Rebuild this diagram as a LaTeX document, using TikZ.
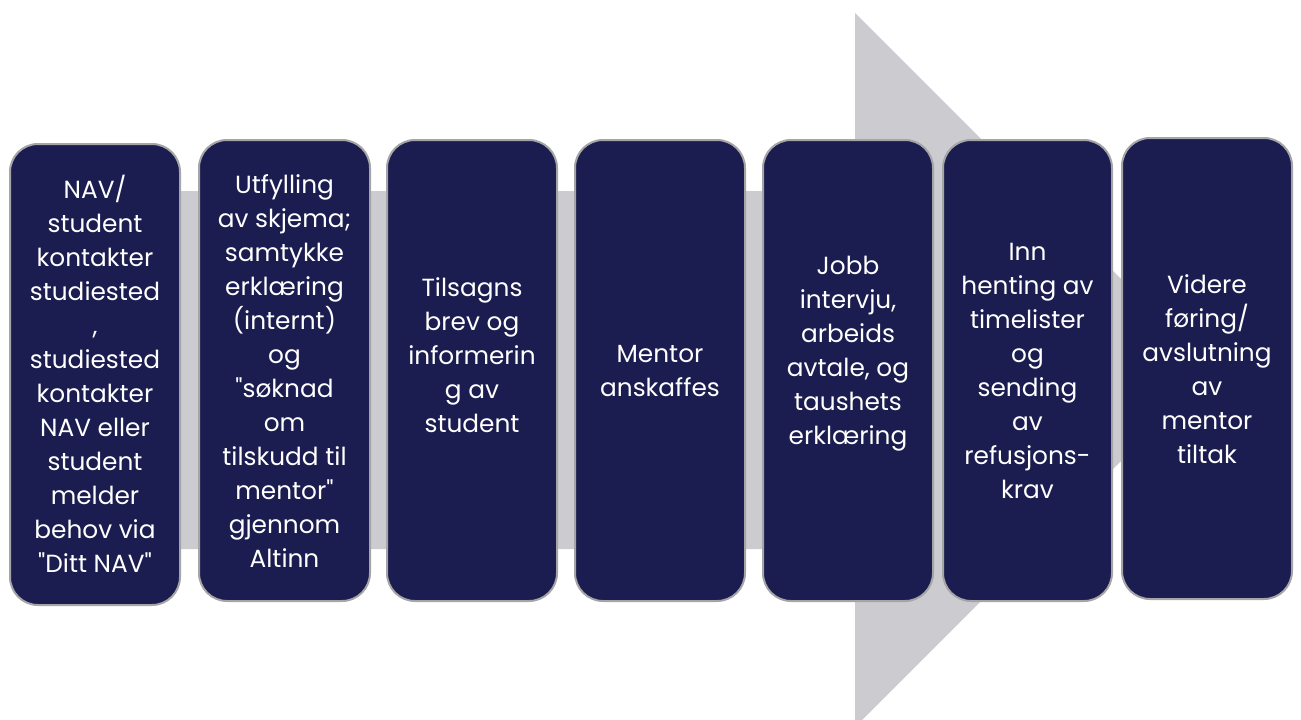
\documentclass[tikz,border=0pt]{standalone}
\usepackage{fontspec}
\setmainfont{Poppins}[Ligatures=TeXOff]
\definecolor{navy}{HTML}{1B1C4F}
\definecolor{arrowgray}{HTML}{CBCBD0}
\definecolor{edgegray}{HTML}{A5A5A8}
\begin{document}
\begin{tikzpicture}[x=1pt,y=-1pt,
  stepbox/.style={draw=edgegray,line width=2pt,fill=navy,rounded corners=28pt},
  steptext/.style={text=white,align=center,inner sep=0pt,font=\fontsize{24.8}{34}\selectfont}]
\useasboundingbox (0,0) rectangle (1301,720);
\begin{scope}
\clip (0,0) rectangle (1301,720);
\fill[arrowgray] (20,191) -- (855,191) -- (855,13) -- (1212,370) -- (855,727) -- (855,549) -- (20,549) -- cycle;
\end{scope}
\draw[stepbox] (10,144) rectangle (180,605);
\draw[stepbox] (199,140) rectangle (370,601);
\draw[stepbox] (387,140) rectangle (557,601);
\draw[stepbox] (575,140) rectangle (745,601);
\draw[stepbox] (763,140) rectangle (933,601);
\draw[stepbox] (943,140) rectangle (1112,601);
\draw[stepbox] (1122,138) rectangle (1292,599);
\node[steptext] (t1) at (95,374) {NAV/\\student\\kontakter\\studiested\\,\\studiested\\kontakter\\NAV eller\\student\\melder\\behov via\\"Ditt NAV"};
\node[steptext] (t2) at (284.5,371) {Utfylling\\av skjema;\\samtykke\\erklæring\\(internt)\\og\\"søknad\\om\\tilskudd til\\mentor"\\gjennom\\Altinn};
\node[steptext] (t3) at (472,355) {Tilsagns\\brev og\\informerin\\g av\\student};
\node[steptext] (t4) at (660,371) {Mentor\\anskaffes};
\node[steptext] (t5) at (848,354) {Jobb\\intervju,\\arbeids\\avtale, og\\taushets\\erklæring};
\node[steptext] (t6) at (1027.5,371) {Inn\\henting av\\timelister\\og\\sending\\av\\refusjons-\\krav};
\node[steptext] (t7) at (1207,369) {Videre\\føring/\\avslutning\\av\\mentor\\tiltak};
\end{tikzpicture}
\end{document}
